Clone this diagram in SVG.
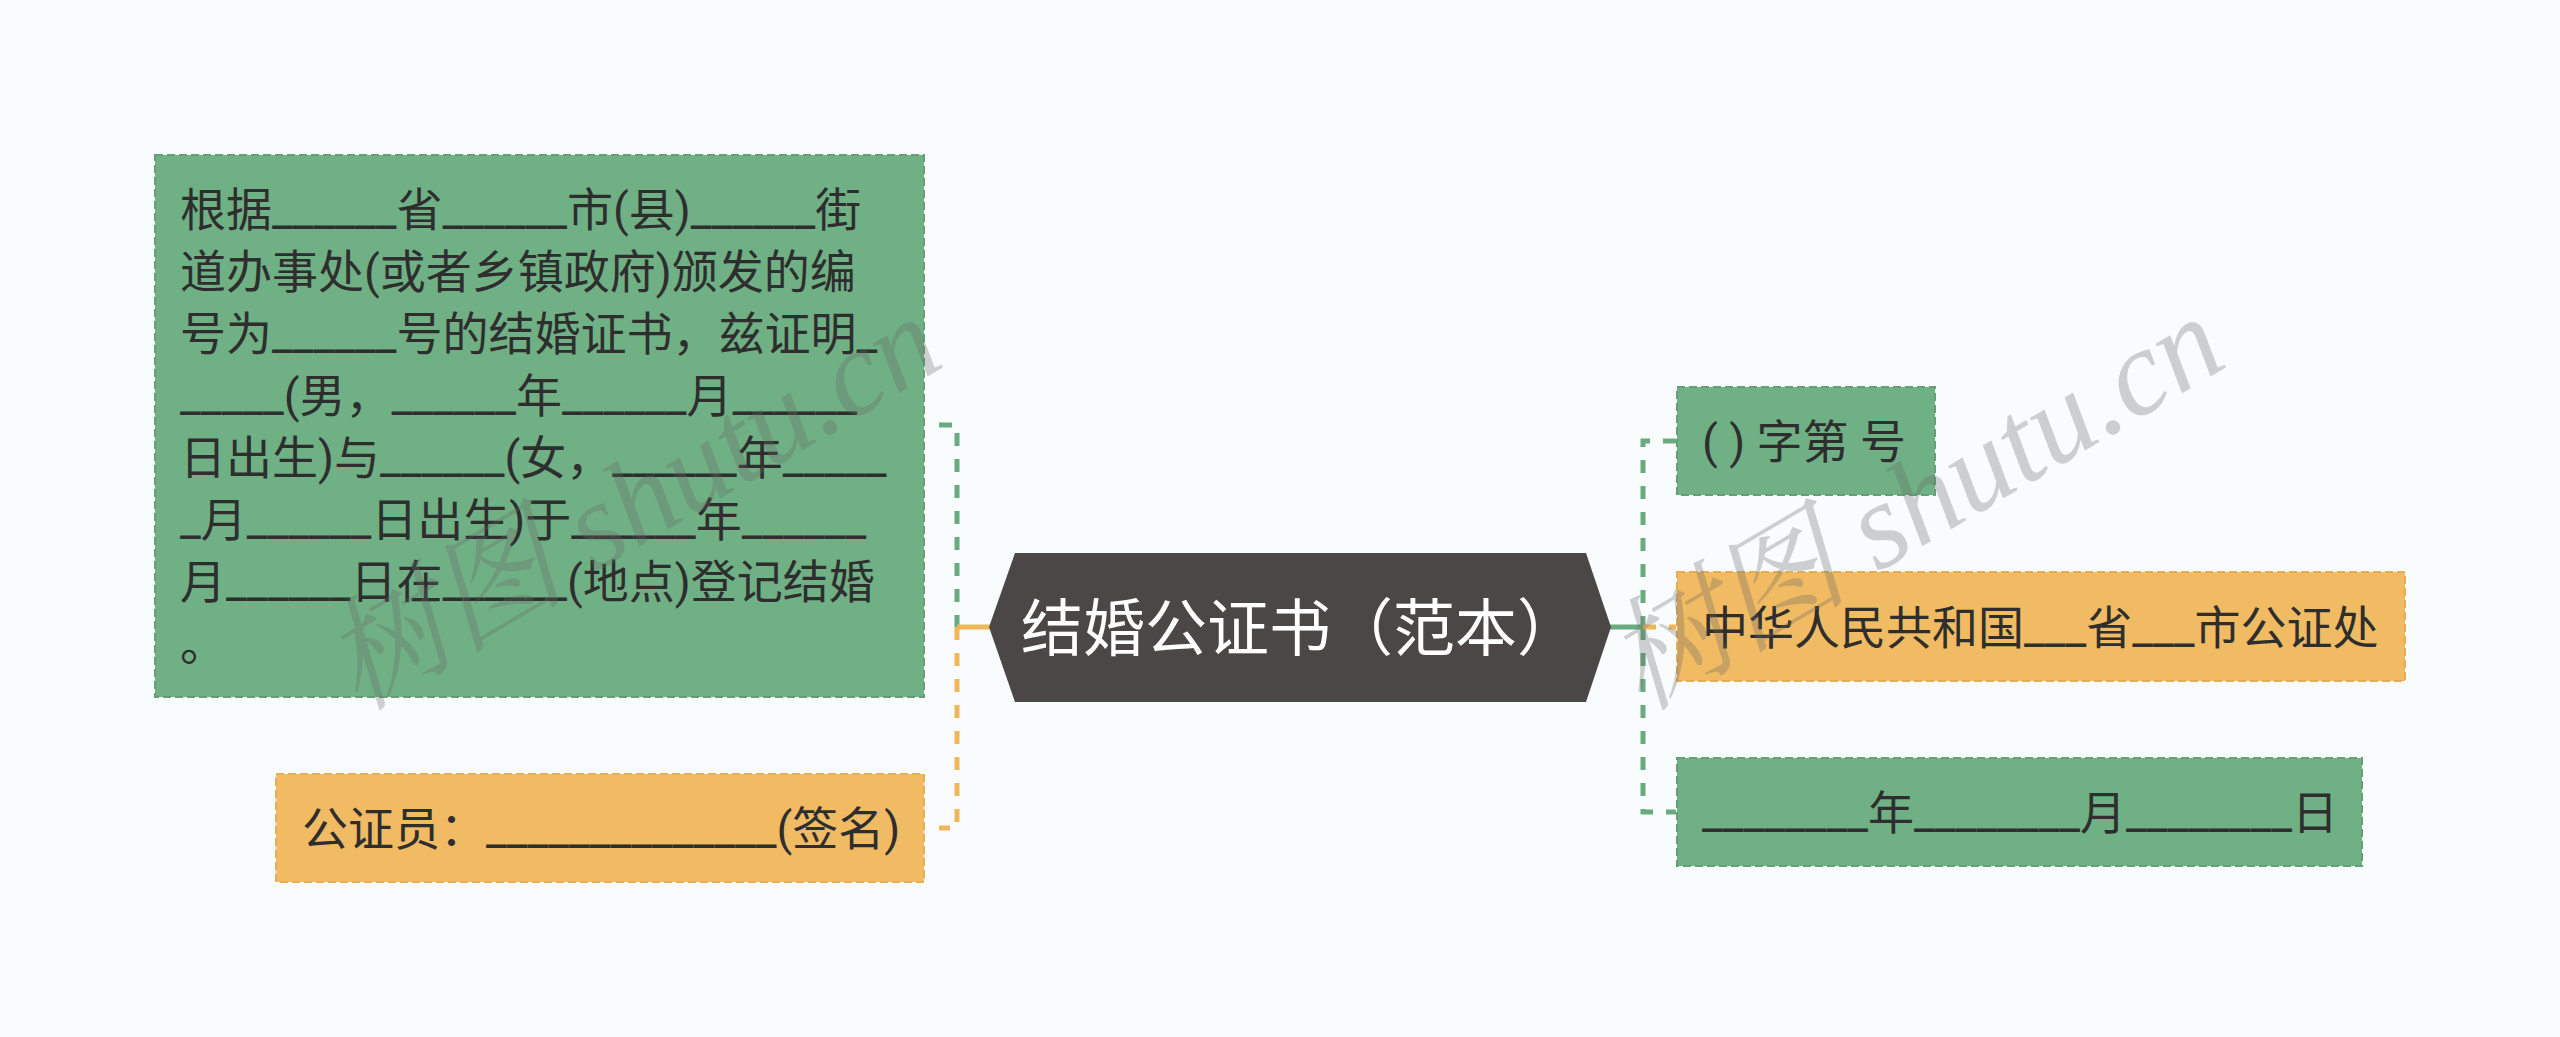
<svg xmlns="http://www.w3.org/2000/svg" width="2560" height="1037" viewBox="0 0 2560 1037">
<style>
.bg{fill:#f8fcfc}
.g{fill:#70b085;stroke:#659f79;stroke-width:2;stroke-dasharray:8 4}
.o{fill:#f0bb62;stroke:#e4ad55;stroke-width:2;stroke-dasharray:8 4}
.t{font-family:Roboto,"Noto Sans CJK SC",sans-serif;font-size:46px;fill:#2e2e2e}
.title{font-family:"Noto Sans CJK SC","Noto Sans",sans-serif;font-size:62px;fill:#ffffff}
.cg{fill:none;stroke:#6aaa80;stroke-width:5;stroke-dasharray:13 13}
.co{fill:none;stroke:#efb75a;stroke-width:5;stroke-dasharray:13 13}
.sg{fill:none;stroke:#6aaa80;stroke-width:5}
.so{fill:none;stroke:#efb75a;stroke-width:5}
.wm{font-family:"Liberation Serif","Noto Serif CJK SC","Noto Sans CJK SC",serif;font-size:122px;font-style:italic;fill:#666666;fill-opacity:0.3}
</style>
<rect class="bg" x="0" y="0" width="2560" height="1037"/>
<g id="connectors">
<path class="cg" d="M939 425 H957 V627"/>
<path class="co" d="M957 627 V828 H939"/>
<path class="so" d="M957 627 H990"/>
<path class="cg" d="M1676 441 H1643 V627"/>
<path class="cg" d="M1643 627 V812 H1676"/>
<path class="co" d="M1643 627 H1676"/>
<path class="sg" d="M1610 627 H1643"/>
</g>
<g id="root">
<polygon points="989,627 1015,553 1586,553 1611,627 1586,702 1015,702" fill="#4b4747"/>
<text class="title" x="1300" y="651" text-anchor="middle">结婚公证书（范本）</text>
</g>
<g id="node-left-main">
<rect class="g" x="155" y="155" width="769" height="542"/>
<text class="t" x="180" y="226">根据______省______市(县)______街</text>
<text class="t" x="180" y="288">道办事处(或者乡镇政府)颁发的编</text>
<text class="t" x="180" y="350">号为______号的结婚证书，兹证明_</text>
<text class="t" x="180" y="412">_____(男，______年______月______</text>
<text class="t" x="180" y="474">日出生)与______(女，______年_____</text>
<text class="t" x="180" y="536">_月______日出生)于______年______</text>
<text class="t" x="180" y="598">月______日在______(地点)登记结婚</text>
<text class="t" x="180" y="660">。</text>
</g>
<g id="node-left-sign">
<rect class="o" x="276" y="774" width="648" height="108"/>
<text class="t" x="302" y="845">公证员：______________(签名)</text>
</g>
<g id="node-right-number">
<rect class="g" x="1677" y="387" width="258" height="108"/>
<text class="t" x="1702" y="458">( ) 字第 号</text>
</g>
<g id="node-right-office">
<rect class="o" x="1677" y="572" width="728" height="109"/>
<text class="t" x="1702" y="644">中华人民共和国___省___市公证处</text>
</g>
<g id="node-right-date">
<rect class="g" x="1677" y="758" width="685" height="108"/>
<text class="t" x="1702" y="829">________年________月________日</text>
</g>
<g id="watermark">
<text class="wm" transform="translate(358,712) rotate(-30.5)">树图 shutu.cn</text>
<text class="wm" transform="translate(1641,712) rotate(-30.5)">树图 shutu.cn</text>
</g>
</svg>
